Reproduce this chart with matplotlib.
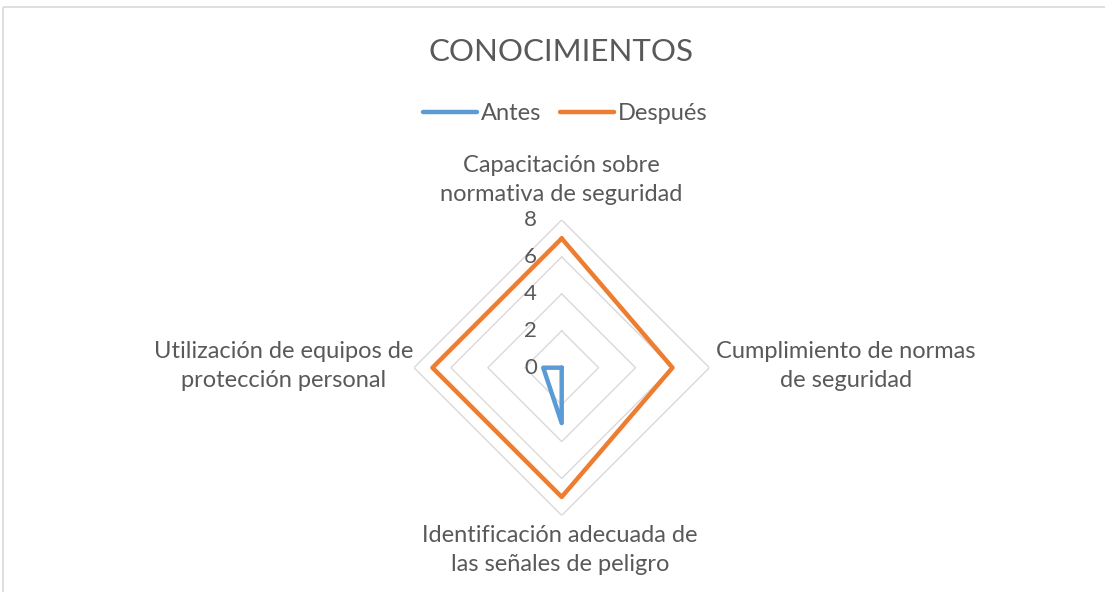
import numpy as np
import matplotlib.pyplot as plt
from matplotlib.patches import Rectangle
from matplotlib.transforms import offset_copy

# ------------------ datos ------------------
categorias = ["Capacitación sobre\nnormativa de seguridad",
              "Cumplimiento de normas\nde seguridad",
              "Identificación adecuada de\nlas señales de peligro",
              "Utilización de equipos de\nprotección personal"]
antes = [0, 0, 3, 1]
despues = [7, 6, 7, 7]
niveles = [0, 2, 4, 6, 8]
# -------------------------------------------

gris_txt = "#595959"
gris_grid = "#d9d9d9"
plt.rcParams['font.family'] = ['Lato', 'DejaVu Sans']

W, H = 1105, 592
fig = plt.figure(figsize=(W / 100, H / 100), dpi=100)

def px(x, y):
    return x / W, 1 - y / H

# borde del area del grafico
fig.patches.append(Rectangle(px(3, 7), 1.2, -1.2, transform=fig.transFigure,
                             fill=False, edgecolor=gris_grid, lw=1.2))

cx, cy, rad = 561.7, 367.7, 147.7
ax = fig.add_axes([(cx - rad) / W, 1 - (cy + rad) / H, 2 * rad / W, 2 * rad / H],
                  projection='polar')
ax.set_theta_offset(np.pi / 2)
ax.set_theta_direction(-1)
ax.set_ylim(0, 8)
ax.grid(False)
ax.spines['polar'].set_visible(False)
ax.set_xticks([])
ax.set_yticks([])
ax.patch.set_alpha(0)

ang = np.linspace(0, 2 * np.pi, len(categorias), endpoint=False)
ang_c = np.append(ang, ang[0])

for r in niveles[1:]:
    ax.plot(ang_c, [r] * len(ang_c), color=gris_grid, lw=1.0, zorder=1)

l1, = ax.plot(ang_c, antes + antes[:1], color="#5b9bd5", lw=3.2,
              solid_joinstyle='round', solid_capstyle='round', label="Antes", zorder=3)
l2, = ax.plot(ang_c, despues + despues[:1], color="#ed7d31", lw=3.2,
              solid_joinstyle='round', solid_capstyle='round', label="Después", zorder=3)

# etiquetas del eje radial
tr = offset_copy(ax.transData, fig=fig, x=-31, y=0, units='dots')
for r in niveles:
    ax.text(0, r, str(r), transform=tr, ha='center', va='center',
            fontsize=16, color=gris_txt)

# etiquetas de categorias
pos = [(561, 180), (846, 366), (560, 550), (284, 366)]
for (x, y), txt in zip(pos, categorias):
    fig.text(*px(x, y), txt, ha='center', va='center', fontsize=17,
             color=gris_txt, linespacing=1.45)

fig.text(*px(561, 52), "CONOCIMIENTOS", ha='center', va='center',
         fontsize=22.5, color=gris_txt)

fig.legend(handles=[l1, l2], loc='center', bbox_to_anchor=px(565, 114),
           ncol=2, frameon=False, fontsize=17, labelcolor=gris_txt,
           handlelength=2.3, handletextpad=0.15, columnspacing=0.8)

fig.savefig("out.png", dpi=100)
